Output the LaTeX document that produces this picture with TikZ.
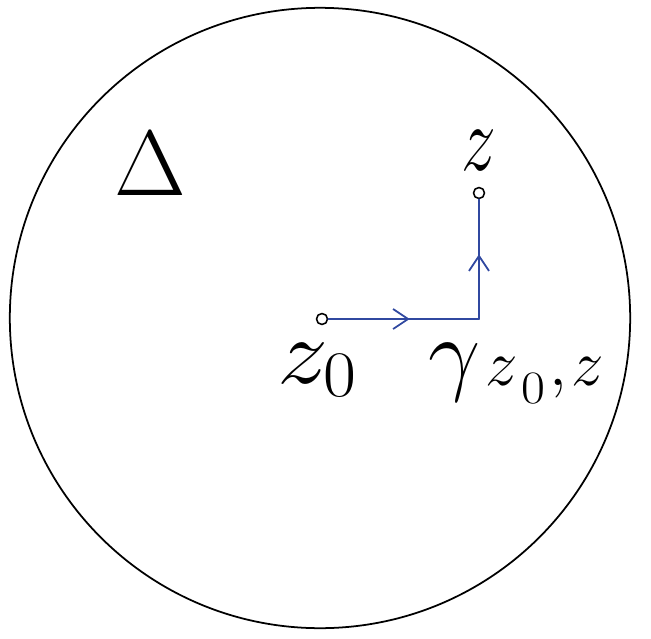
\documentclass[tikz,border=0pt]{standalone}
\usepackage{fix-cm}
\usetikzlibrary{arrows.meta,decorations.markings,positioning}
\definecolor{pathblue}{RGB}{48,72,160}
\tikzset{
  pt/.style={circle,draw,fill=white,inner sep=0pt,minimum size=0.11cm,line width=0.45pt},
  lbl/.style={font=\fontsize{26.4}{30}\selectfont,inner sep=0pt},
  pathline/.style={pathblue,line width=0.5pt,postaction={decorate},
    decoration={markings,mark=at position 0.54 with {\arrow{Straight Barb[length=0.15cm,width=0.2cm,line width=0.5pt]}}}}
}
\newcommand{\subpart}[1]{\scalebox{0.7}{#1}}
\begin{document}
\begin{tikzpicture}[x=0.01cm,y=-0.01cm,line cap=round,line join=round]
  \useasboundingbox (0,0) rectangle (651,639);
  \coordinate (O) at (320,318);
  \draw[line width=0.5pt] (O) circle[radius=3.1cm];
  \node[pt] (z0) at (322,319) {};
  \node[pt] (z) at (479,193) {};
  \coordinate (corner) at (479,319);
  \draw[pathline] (z0) -- (corner);
  \draw[pathline] (corner) -- (z);
  \node[lbl,anchor=base] (Delta) at (150,195) {\(\Delta\)};
  \node[lbl,anchor=base,xscale=0.75] (zlab) at (479,170) {\(z\)};
  \node[lbl,anchor=base,xscale=1.1] (z0lab) at (318,383) {\(z_0\)};
  \node[lbl,anchor=base west] (gamma) at (428,383)
    {\(\gamma\)\kern1.4pt\raisebox{-0.7pt}{\subpart{\(z\)}\kern0.8pt\raisebox{-5.1pt}{\scalebox{0.56}[0.5]{0}}\kern1.2pt\subpart{\(,\)}\kern1.4pt\subpart{\(z\)}}};
\end{tikzpicture}
\end{document}
